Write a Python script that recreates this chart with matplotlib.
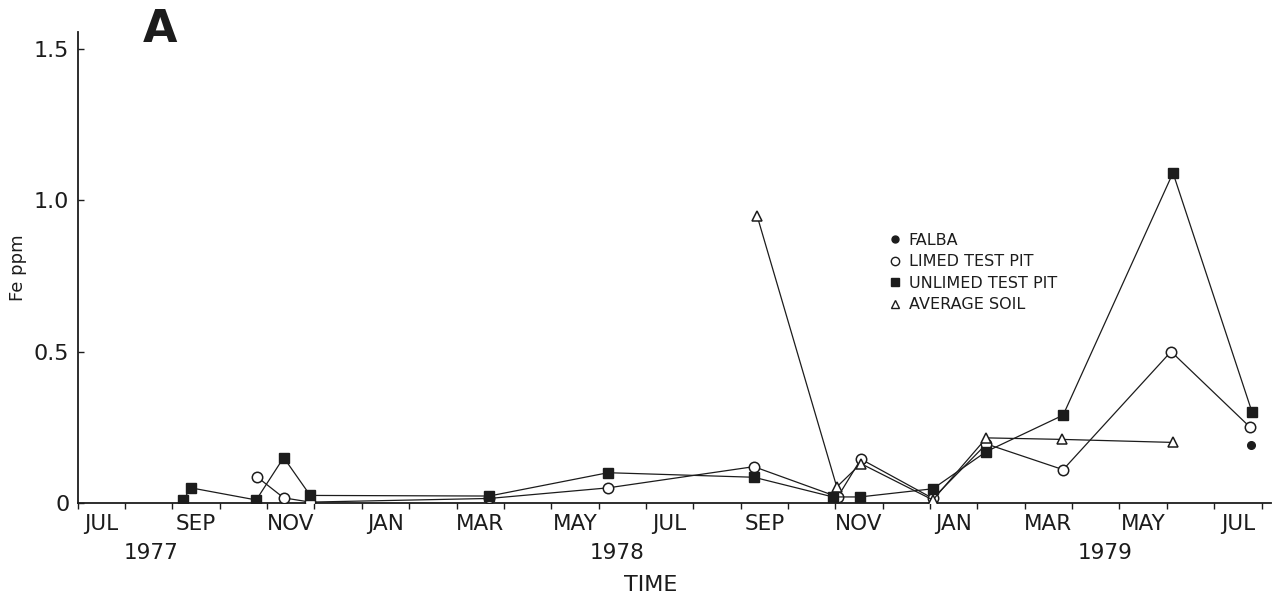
import numpy as np
import matplotlib
matplotlib.use("Agg")
import matplotlib.pyplot as plt
from matplotlib.lines import Line2D

# Time axis in months since 1 July 1977
month_labels = ["JUL", "SEP", "NOV", "JAN", "MAR", "MAY", "JUL",
                "SEP", "NOV", "JAN", "MAR", "MAY", "JUL"]
month_label_pos = [0.5, 2.5, 4.5, 6.5, 8.5, 10.5, 12.5,
                   14.5, 16.5, 18.5, 20.5, 22.5, 24.5]
year_labels = ["1977", "1978", "1979"]
year_label_pos = [1.55, 11.4, 21.7]

# Fe concentrations (ppm)
unlimed_t = [2.23, 2.39, 3.77, 4.35, 4.91, 8.69, 11.20, 14.28, 15.95, 16.52,
             18.06, 19.19, 20.81, 23.13, 24.80]
unlimed_fe = [0.01, 0.05, 0.01, 0.15, 0.025, 0.023, 0.10, 0.085, 0.02, 0.02,
              0.047, 0.17, 0.29, 1.09, 0.30]

limed_t = [3.78, 4.35, 4.91, 8.69, 11.20, 14.28, 16.05, 16.54, 18.06, 19.19,
           20.81, 23.09, 24.76]
limed_fe = [0.087, 0.017, 0.003, 0.015, 0.05, 0.12, 0.02, 0.145, 0.015, 0.195,
            0.11, 0.50, 0.25]

soil_t = [14.35, 16.03, 16.54, 18.06, 19.19, 20.78, 23.13]
soil_fe = [0.947, 0.053, 0.13, 0.01, 0.215, 0.21, 0.20]

falba_t = [24.78]
falba_fe = [0.19]

ink = "#1c1c1c"
W, H = 1277, 601
fig = plt.figure(figsize=(W / 100, H / 100), dpi=100)
fig.patch.set_facecolor("white")

x0, x1 = 77.7, 1271.0
y0, y1 = 503.0, 32.0
ax = fig.add_axes([x0 / W, (H - y0) / H, (x1 - x0) / W, (y0 - y1) / H])
ax.set_xlim(0, 25.2)
ax.set_ylim(0, 1.555)

for s in ("top", "right"):
    ax.spines[s].set_visible(False)
for s in ("left", "bottom"):
    ax.spines[s].set_color(ink)
    ax.spines[s].set_linewidth(1.3)

lw = 0.9
ax.plot(limed_t, limed_fe, color=ink, lw=lw, marker="o", ms=7.5,
        mfc="white", mec=ink, mew=1.1, zorder=3)
ax.plot(soil_t, soil_fe, color=ink, lw=lw, marker="^", ms=7.5,
        mfc="white", mec=ink, mew=1.1, zorder=3)
ax.plot(unlimed_t, unlimed_fe, color=ink, lw=lw, marker="s", ms=7.5,
        mfc=ink, mec=ink, zorder=4)
ax.plot(falba_t, falba_fe, ls="none", marker="o", ms=5.5,
        mfc=ink, mec=ink, zorder=4)

# month boundaries carry the ticks, labels sit centred in the month
ax.set_xticks(np.arange(0, 26))
ax.set_xticklabels([])
ax.tick_params(axis="x", which="major", direction="out", length=4,
               width=1.0, color=ink)
ax.set_xticks(month_label_pos, minor=True)
ax.set_xticklabels(month_labels, minor=True)
ax.tick_params(axis="x", which="minor", length=0, pad=8, labelsize=15.5,
               labelcolor=ink)

ax.set_yticks([0, 0.5, 1.0, 1.5])
ax.set_yticklabels(["0", "0.5", "1.0", "1.5"])
ax.tick_params(axis="y", direction="in", length=4, width=1.0, color=ink,
               pad=6, labelsize=16, labelcolor=ink)

tr = ax.get_xaxis_transform()
for lab, pos in zip(year_labels, year_label_pos):
    ax.text(pos, -0.106, lab, transform=tr, ha="center", va="center",
            fontsize=15.5, color=ink)
ax.text(12.1, -0.174, "TIME", transform=tr, ha="center", va="center",
        fontsize=16, color=ink)

fig.text(18 / W, (H - 268) / H, "Fe ppm", rotation=90, ha="center",
         va="center", fontsize=13, color=ink)
fig.text(160 / W, (H - 29) / H, "A", ha="center", va="center",
         fontsize=32, fontweight="bold", color=ink)

handles = [
    Line2D([], [], ls="none", marker="o", ms=5, mfc=ink, mec=ink),
    Line2D([], [], ls="none", marker="o", ms=6, mfc="white", mec=ink, mew=1.0),
    Line2D([], [], ls="none", marker="s", ms=6, mfc=ink, mec=ink),
    Line2D([], [], ls="none", marker="^", ms=6, mfc="white", mec=ink, mew=1.0),
]
labels = ["FALBA", "LIMED TEST PIT", "UNLIMED TEST PIT", "AVERAGE SOIL"]
leg = ax.legend(handles, labels, loc="upper left",
                bbox_to_anchor=(887 / W, (H - 233) / H),
                bbox_transform=fig.transFigure, frameon=False,
                handlelength=1.0, handletextpad=0.35, labelspacing=0.4,
                borderpad=0, borderaxespad=0, fontsize=11.5)
for t in leg.get_texts():
    t.set_color(ink)

fig.savefig("out.png", dpi=100, facecolor="white")
